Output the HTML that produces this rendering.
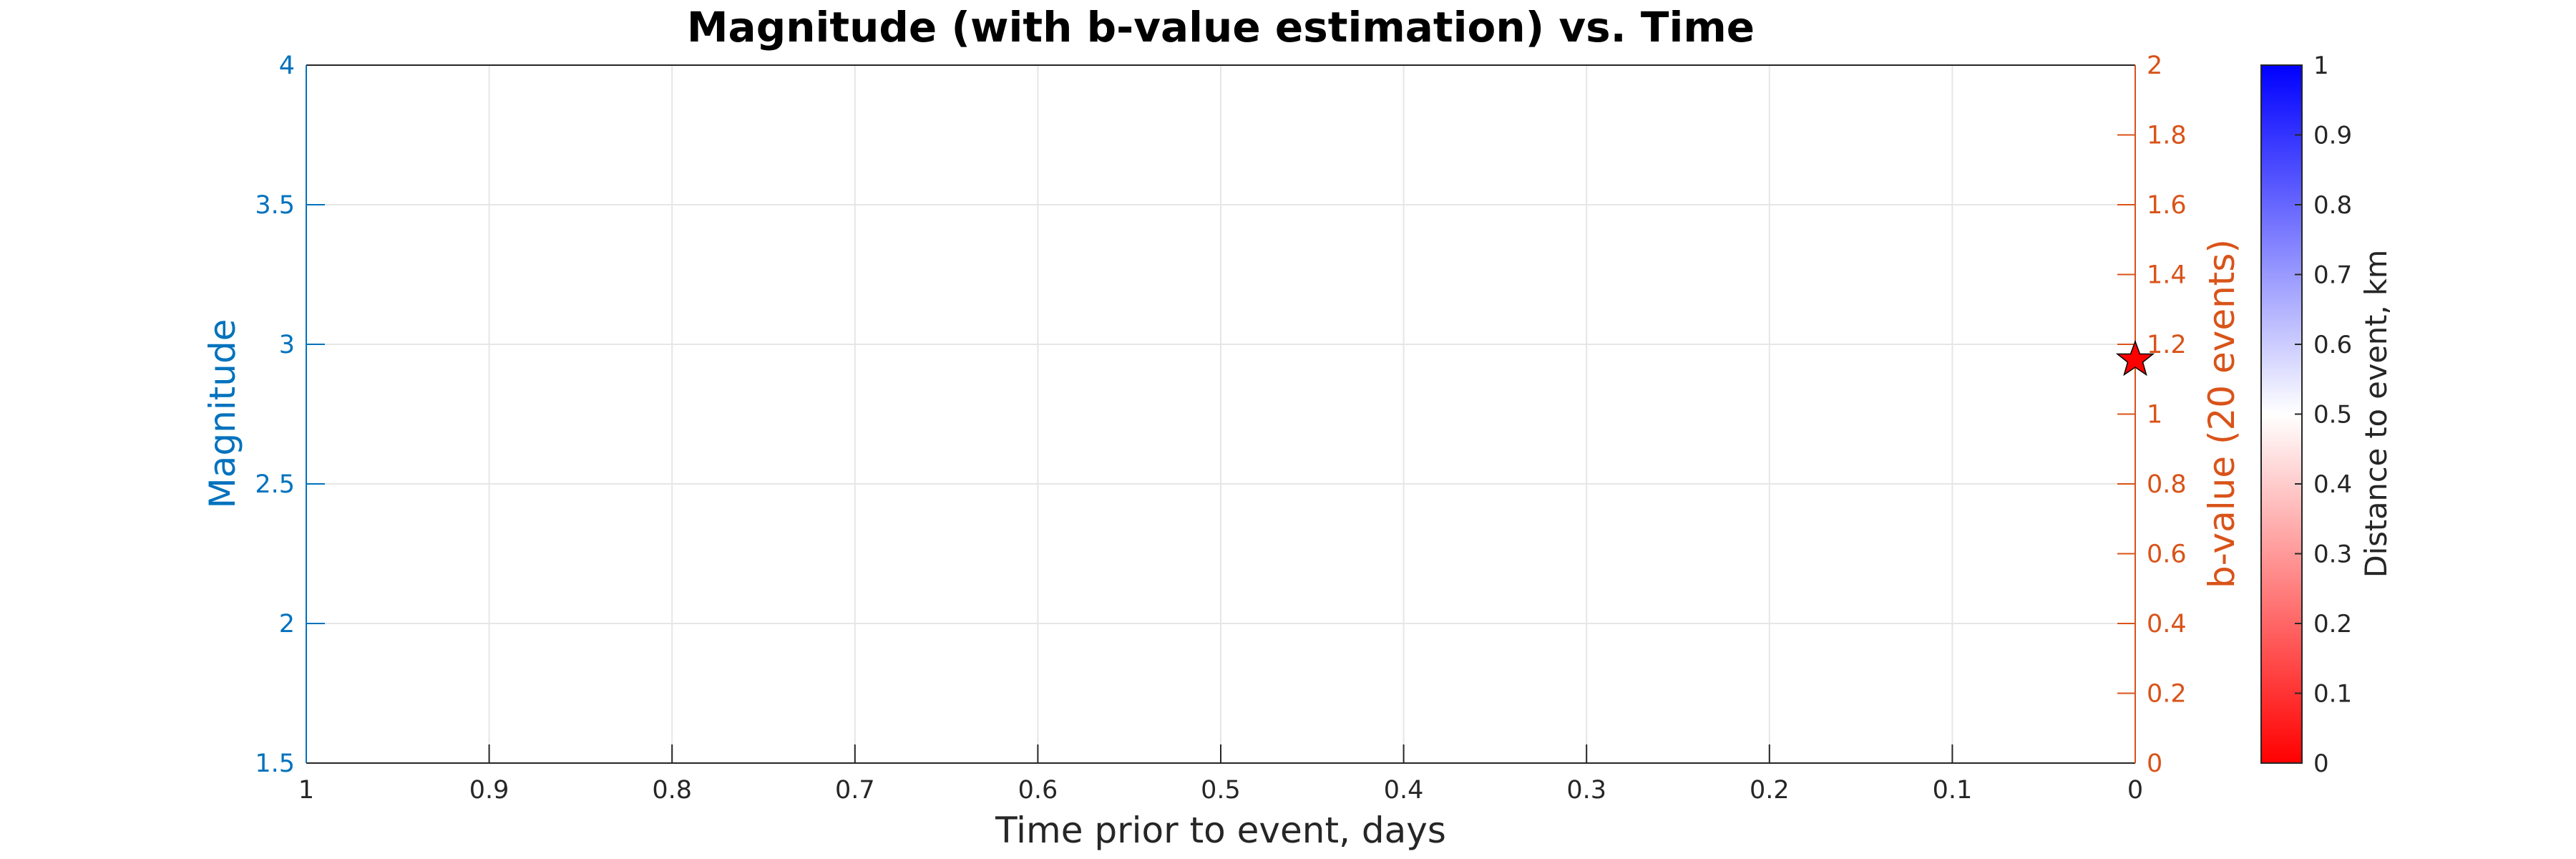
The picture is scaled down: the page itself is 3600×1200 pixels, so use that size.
<!DOCTYPE html>
<html><head><meta charset="utf-8"><style>
html,body{margin:0;padding:0;background:#fff;}
svg{display:block;}
text{font-family:"DejaVu Sans","Liberation Sans",sans-serif;}
</style></head><body>
<svg width="3600" height="1200" viewBox="0 0 3600 1200" xmlns="http://www.w3.org/2000/svg">
<defs>
<linearGradient id="cb" x1="0" y1="1" x2="0" y2="0">
<stop offset="0" stop-color="#ff0000"/>
<stop offset="0.5" stop-color="#ffffff"/>
<stop offset="1" stop-color="#0000ff"/>
</linearGradient>
</defs>
<rect width="3600" height="1200" fill="#fff"/>
<g stroke="#e6e6e6" stroke-width="2">
<line x1="683.6" y1="91" x2="683.6" y2="1066"/>
<line x1="939.2" y1="91" x2="939.2" y2="1066"/>
<line x1="1194.8" y1="91" x2="1194.8" y2="1066"/>
<line x1="1450.4" y1="91" x2="1450.4" y2="1066"/>
<line x1="1706" y1="91" x2="1706" y2="1066"/>
<line x1="1961.6" y1="91" x2="1961.6" y2="1066"/>
<line x1="2217.2" y1="91" x2="2217.2" y2="1066"/>
<line x1="2472.8" y1="91" x2="2472.8" y2="1066"/>
<line x1="2728.4" y1="91" x2="2728.4" y2="1066"/>
<line x1="428" y1="286" x2="2984" y2="286"/>
<line x1="428" y1="481" x2="2984" y2="481"/>
<line x1="428" y1="676" x2="2984" y2="676"/>
<line x1="428" y1="871" x2="2984" y2="871"/>
</g>
<line x1="428" y1="91" x2="2984" y2="91" stroke="#262626" stroke-width="2"/>
<line x1="428" y1="1066" x2="2984" y2="1066" stroke="#262626" stroke-width="2"/>
<line x1="428" y1="91" x2="428" y2="1066" stroke="#0072BD" stroke-width="2"/>
<line x1="2984" y1="91" x2="2984" y2="1066" stroke="#D95319" stroke-width="2"/>
<g stroke="#262626" stroke-width="2">
<line x1="683.6" y1="1066" x2="683.6" y2="1040"/><line x1="939.2" y1="1066" x2="939.2" y2="1040"/>
<line x1="1194.8" y1="1066" x2="1194.8" y2="1040"/><line x1="1450.4" y1="1066" x2="1450.4" y2="1040"/>
<line x1="1706" y1="1066" x2="1706" y2="1040"/><line x1="1961.6" y1="1066" x2="1961.6" y2="1040"/>
<line x1="2217.2" y1="1066" x2="2217.2" y2="1040"/><line x1="2472.8" y1="1066" x2="2472.8" y2="1040"/>
<line x1="2728.4" y1="1066" x2="2728.4" y2="1040"/>
</g>
<g stroke="#0072BD" stroke-width="2">
<line x1="428" y1="286" x2="454" y2="286"/><line x1="428" y1="481" x2="454" y2="481"/>
<line x1="428" y1="676" x2="454" y2="676"/><line x1="428" y1="871" x2="454" y2="871"/>
</g>
<g stroke="#D95319" stroke-width="2">
<line x1="2984" y1="188.5" x2="2959" y2="188.5"/><line x1="2984" y1="286" x2="2959" y2="286"/>
<line x1="2984" y1="383.5" x2="2959" y2="383.5"/><line x1="2984" y1="481" x2="2959" y2="481"/>
<line x1="2984" y1="578.5" x2="2959" y2="578.5"/><line x1="2984" y1="676" x2="2959" y2="676"/>
<line x1="2984" y1="773.5" x2="2959" y2="773.5"/><line x1="2984" y1="871" x2="2959" y2="871"/>
<line x1="2984" y1="968.5" x2="2959" y2="968.5"/>
</g>
<g font-size="35" fill="#262626" text-anchor="middle">
<text x="428" y="1115">1</text><text x="683.6" y="1115">0.9</text><text x="939.2" y="1115">0.8</text>
<text x="1194.8" y="1115">0.7</text><text x="1450.4" y="1115">0.6</text><text x="1706" y="1115">0.5</text>
<text x="1961.6" y="1115">0.4</text><text x="2217.2" y="1115">0.3</text><text x="2472.8" y="1115">0.2</text>
<text x="2728.4" y="1115">0.1</text><text x="2984" y="1115">0</text>
</g>
<g font-size="35" fill="#0072BD" text-anchor="end">
<text x="412" y="103">4</text><text x="412" y="298">3.5</text><text x="412" y="493">3</text>
<text x="412" y="688">2.5</text><text x="412" y="883">2</text><text x="412" y="1078">1.5</text>
</g>
<g font-size="35" fill="#D95319" text-anchor="start">
<text x="3000" y="103">2</text><text x="3000" y="200.5">1.8</text><text x="3000" y="298">1.6</text>
<text x="3000" y="395.5">1.4</text><text x="3000" y="493">1.2</text><text x="3000" y="590.5">1</text>
<text x="3000" y="688">0.8</text><text x="3000" y="785.5">0.6</text><text x="3000" y="883">0.4</text>
<text x="3000" y="980.5">0.2</text><text x="3000" y="1078">0</text>
</g>
<polygon points="2984,477 2990.5,494.5 3009,494.5 2994.5,506 2999.5,523.5 2984,513 2968.5,523.5 2973.5,506 2959,494.5 2977.5,494.5" fill="#ff0000" stroke="#000" stroke-width="1.5"/>
<text x="1706" y="58" font-size="58" font-weight="bold" fill="#000" text-anchor="middle">Magnitude (with b-value estimation) vs. Time</text>
<text x="1706" y="1177" font-size="50" fill="#262626" text-anchor="middle">Time prior to event, days</text>
<text transform="translate(328,578) rotate(-90)" font-size="50" fill="#0072BD" text-anchor="middle">Magnitude</text>
<text transform="translate(3122,578) rotate(-90)" font-size="50" fill="#D95319" text-anchor="middle">b-value (20 events)</text>
<rect x="3160" y="91" width="57" height="975" fill="url(#cb)" stroke="#262626" stroke-width="2"/>
<g stroke="#262626" stroke-width="2">
<line x1="3217" y1="188.5" x2="3207" y2="188.5"/><line x1="3217" y1="286" x2="3207" y2="286"/>
<line x1="3217" y1="383.5" x2="3207" y2="383.5"/><line x1="3217" y1="481" x2="3207" y2="481"/>
<line x1="3217" y1="578.5" x2="3207" y2="578.5"/><line x1="3217" y1="676" x2="3207" y2="676"/>
<line x1="3217" y1="773.5" x2="3207" y2="773.5"/><line x1="3217" y1="871" x2="3207" y2="871"/>
<line x1="3217" y1="968.5" x2="3207" y2="968.5"/>
</g>
<g font-size="34" fill="#262626" text-anchor="start">
<text x="3233" y="103">1</text><text x="3233" y="200.5">0.9</text><text x="3233" y="298">0.8</text>
<text x="3233" y="395.5">0.7</text><text x="3233" y="493">0.6</text><text x="3233" y="590.5">0.5</text>
<text x="3233" y="688">0.4</text><text x="3233" y="785.5">0.3</text><text x="3233" y="883">0.2</text>
<text x="3233" y="980.5">0.1</text><text x="3233" y="1078">0</text>
</g>
<text transform="translate(3335,578) rotate(-90)" font-size="41.5" fill="#262626" text-anchor="middle">Distance to event, km</text>
</svg>
</body></html>
